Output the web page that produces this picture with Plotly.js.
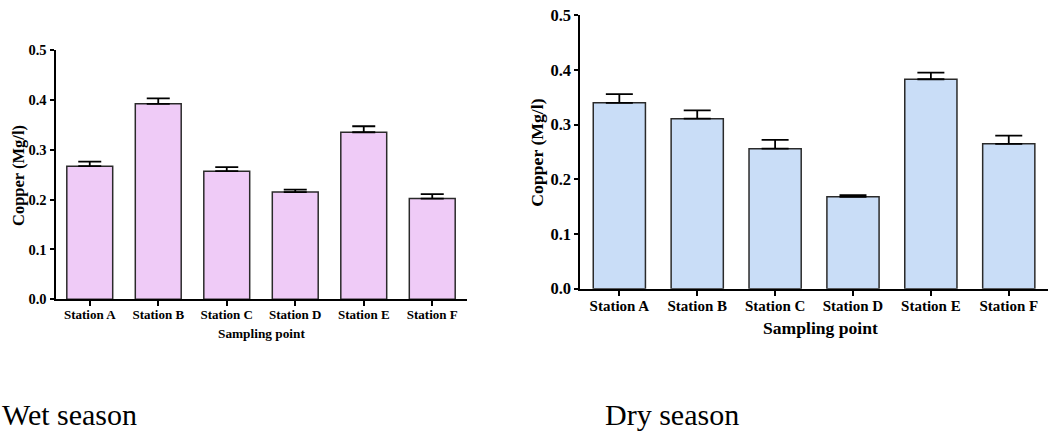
<!DOCTYPE html>
<html>
<head>
<meta charset="utf-8">
<script src="https://cdn.plot.ly/plotly-3.0.1.min.js"></script>
<style>
html,body{margin:0;padding:0;background:#fff;}
#chart{width:1056px;height:432px;}
</style>
</head>
<body>
<div id="chart"></div>
<script>
// Data
const stations = ["Station A", "Station B", "Station C", "Station D", "Station E", "Station F"];
const wetMeans = [0.267, 0.392, 0.257, 0.215, 0.335, 0.202];
const wetErrs  = [0.009, 0.011, 0.008, 0.005, 0.012, 0.009];
const dryMeans = [0.340, 0.311, 0.256, 0.168, 0.383, 0.265];
const dryErrs  = [0.016, 0.015, 0.016, 0.003, 0.012, 0.015];
const yTicks = [0, 0.1, 0.2, 0.3, 0.4, 0.5];
const yTickLabels = ["0.0", "0.1", "0.2", "0.3", "0.4", "0.5"];
const yTitle = "Copper (Mg/l)";
const xTitle = "Sampling point";
const panelLabels = ["Wet season", "Dry season"];

const SERIF = "Liberation Serif, Tinos, Times New Roman, DejaVu Serif, serif";
const serifBold = {family: SERIF, weight: "bold", color: "#000"};

const traces = [
  {
    type: "bar", x: stations, y: wetMeans, xaxis: "x", yaxis: "y",
    marker: {color: "#EFCBF7", line: {color: "#2a2a2a", width: 1.5}},
    error_y: {type: "data", symmetric: false, array: wetErrs, arrayminus: wetErrs.map(() => 0),
              color: "#000", thickness: 1.8, width: 11.5},
    hoverinfo: "x+y"
  },
  {
    type: "bar", x: stations, y: dryMeans, xaxis: "x2", yaxis: "y2",
    marker: {color: "#C9DDF7", line: {color: "#2a2a2a", width: 1.5}},
    error_y: {type: "data", symmetric: false, array: dryErrs, arrayminus: dryErrs.map(() => 0),
              color: "#000", thickness: 1.8, width: 13.5},
    hoverinfo: "x+y"
  }
];

function xAxis(domain, anchor, size) {
  return {
    domain: domain, anchor: anchor, type: "category", range: [-0.5, 5.5],
    showline: true, linecolor: "#000", linewidth: 2,
    ticks: "outside", ticklen: 5, tickwidth: 2, tickcolor: "#000",
    ticklabelstandoff: -3,
    showgrid: false, zeroline: false, fixedrange: true,
    tickfont: Object.assign({size: size}, serifBold)
  };
}
function yAxis(domain, anchor, size) {
  return {
    domain: domain, anchor: anchor, range: [0, 0.5],
    tickmode: "array", tickvals: yTicks, ticktext: yTickLabels,
    showline: true, linecolor: "#000", linewidth: 2,
    ticks: "outside", ticklen: 4, tickwidth: 2, tickcolor: "#000",
    showgrid: false, zeroline: false, fixedrange: true,
    tickfont: Object.assign({size: size}, serifBold)
  };
}

const layout = {
  width: 1056, height: 432,
  margin: {l: 0, r: 0, t: 0, b: 0},
  paper_bgcolor: "#fff", plot_bgcolor: "rgba(0,0,0,0)",
  font: {family: SERIF},
  showlegend: false, bargap: 0.33,
  xaxis: xAxis([55.5 / 1056, 466.5 / 1056], "y", 13),
  yaxis: yAxis([0.3072, 0.8843], "x", 14.5),
  xaxis2: xAxis([580.4 / 1056, 1047.7 / 1056], "y2", 15),
  yaxis2: yAxis([0.3317, 0.9646], "x2", 16.5),
  annotations: [
    {text: yTitle, xref: "paper", yref: "paper", x: 18 / 1056, y: (432 - 176) / 432,
     textangle: -90, showarrow: false, xanchor: "center", yanchor: "middle",
     font: Object.assign({size: 16.5}, serifBold)},
    {text: xTitle, xref: "paper", yref: "paper", x: 261 / 1056, y: (432 - 333) / 432,
     showarrow: false, xanchor: "center", yanchor: "middle",
     font: Object.assign({size: 13.3}, serifBold)},
    {text: yTitle, xref: "paper", yref: "paper", x: 536.7 / 1056, y: (432 - 153) / 432,
     textangle: -90, showarrow: false, xanchor: "center", yanchor: "middle",
     font: Object.assign({size: 17.7}, serifBold)},
    {text: xTitle, xref: "paper", yref: "paper", x: 820 / 1056, y: (432 - 328) / 432,
     showarrow: false, xanchor: "center", yanchor: "middle",
     font: Object.assign({size: 17.6}, serifBold)},
    {text: panelLabels[0], xref: "paper", yref: "paper", x: 0, y: (432 - 414) / 432,
     showarrow: false, xanchor: "left", yanchor: "middle",
     font: {family: SERIF, size: 30, color: "#000"}},
    {text: panelLabels[1], xref: "paper", yref: "paper", x: 603 / 1056, y: (432 - 414) / 432,
     showarrow: false, xanchor: "left", yanchor: "middle",
     font: {family: SERIF, size: 30, color: "#000"}}
  ]
};

Plotly.newPlot("chart", traces, layout, {displayModeBar: false, responsive: false});
</script>
</body>
</html>
